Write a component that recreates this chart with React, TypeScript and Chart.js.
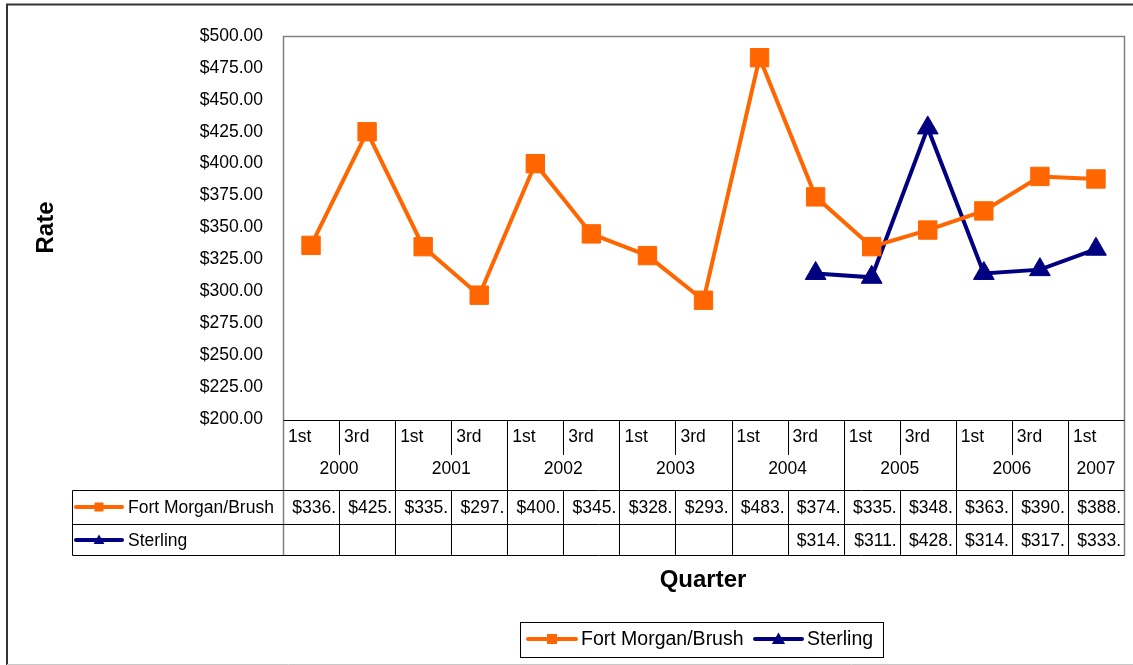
import React, { useEffect, useRef } from 'react';
import { Chart, registerables } from 'chart.js';

Chart.register(...registerables);

const quarters = ['1st', '3rd', '1st', '3rd', '1st', '3rd', '1st', '3rd', '1st', '3rd', '1st', '3rd', '1st', '3rd', '1st'];
const years = ['2000', '2001', '2002', '2003', '2004', '2005', '2006', '2007'];
const categories = quarters.map((q, i) => `${q} ${years[Math.floor(i / 2)]}`);
const fortMorgan = [336, 425, 335, 297, 400, 345, 328, 293, 483, 374, 335, 348, 363, 390, 388];
const sterling: (number | null)[] = [null, null, null, null, null, null, null, null, null, 314, 311, 428, 314, 317, 333];
const seriesNames = ['Fort Morgan/Brush', 'Sterling'];
const seriesColors = ['#FF6600', '#000080'];
const yMin = 200;
const yMax = 500;
const yStep = 25;

const FONT = '"Liberation Sans", Arial, sans-serif';

function drawMarker(ctx: CanvasRenderingContext2D, kind: number, x: number, y: number, s: number) {
  ctx.fillStyle = seriesColors[kind];
  if (kind === 0) {
    ctx.fillRect(x - s / 2, y - s / 2, s, s);
  } else {
    ctx.beginPath();
    ctx.moveTo(x, y - s * 0.6);
    ctx.lineTo(x + s * 0.6, y + s * 0.45);
    ctx.lineTo(x - s * 0.6, y + s * 0.45);
    ctx.closePath();
    ctx.fill();
  }
}

function drawKey(ctx: CanvasRenderingContext2D, kind: number, x1: number, x2: number, y: number, s: number) {
  ctx.save();
  ctx.strokeStyle = seriesColors[kind];
  ctx.lineWidth = 4;
  ctx.lineCap = 'round';
  ctx.beginPath();
  ctx.moveTo(x1, y);
  ctx.lineTo(x2, y);
  ctx.stroke();
  drawMarker(ctx, kind, (x1 + x2) / 2, y, s);
  ctx.restore();
}

const tablePlugin = {
  id: 'tablePlugin',
  afterDraw(chart: any) {
    const ctx: CanvasRenderingContext2D = chart.ctx;
    const area = chart.chartArea;
    const xs = chart.scales.x;
    const n = categories.length;
    const colW = (area.right - area.left) / n;
    const colLeft = (i: number) => xs.getPixelForValue(i) - colW / 2;
    const L = Math.round(area.left) + 0.5;
    const R = Math.round(area.right) + 0.5;
    const T = Math.round(area.top) + 0.5;
    const rowTop = 420.5;
    const qBottom = 455;
    const yrBottom = 490.5;
    const r1Bottom = 524.5;
    const r2Bottom = 555.5;
    const tableLeft = 72.5;

    ctx.save();
    // outer frame
    ctx.strokeStyle = '#333333';
    ctx.lineWidth = 2;
    ctx.beginPath();
    ctx.moveTo(7, 665);
    ctx.lineTo(7, 4.5);
    ctx.lineTo(1133, 4.5);
    ctx.stroke();
    ctx.strokeStyle = '#c8c8c8';
    ctx.lineWidth = 1;
    ctx.beginPath();
    ctx.moveTo(7, 664.5);
    ctx.lineTo(1133, 664.5);
    ctx.stroke();

    // plot border
    ctx.strokeStyle = '#808080';
    ctx.lineWidth = 1.5;
    ctx.beginPath();
    ctx.moveTo(L, r2Bottom);
    ctx.lineTo(L, T);
    ctx.lineTo(R, T);
    ctx.lineTo(R, r2Bottom);
    ctx.stroke();

    // table lines
    ctx.strokeStyle = '#000000';
    ctx.lineWidth = 1;
    ctx.beginPath();
    ctx.moveTo(L, rowTop); ctx.lineTo(R, rowTop);
    ctx.moveTo(tableLeft, yrBottom); ctx.lineTo(R, yrBottom);
    ctx.moveTo(tableLeft, r1Bottom); ctx.lineTo(R, r1Bottom);
    ctx.moveTo(tableLeft, r2Bottom); ctx.lineTo(R, r2Bottom);
    ctx.moveTo(tableLeft, yrBottom); ctx.lineTo(tableLeft, r2Bottom);
    for (let i = 1; i < n; i++) {
      const x = Math.round(colLeft(i)) + 0.5;
      if (i % 2 === 0) {
        ctx.moveTo(x, rowTop); ctx.lineTo(x, r2Bottom);
      } else {
        ctx.moveTo(x, rowTop); ctx.lineTo(x, qBottom);
        ctx.moveTo(x, yrBottom); ctx.lineTo(x, r2Bottom);
      }
    }
    ctx.stroke();

    // quarter + year labels
    ctx.fillStyle = '#000000';
    ctx.font = `17.5px ${FONT}`;
    ctx.textBaseline = 'middle';
    ctx.textAlign = 'left';
    for (let i = 0; i < n; i++) {
      ctx.fillText(quarters[i], colLeft(i) + 5, 437);
    }
    ctx.textAlign = 'center';
    for (let k = 0; k < years.length; k++) {
      const i0 = k * 2;
      const i1 = Math.min(i0 + 1, n - 1);
      const cx = (colLeft(i0) + colLeft(i1) + colW) / 2;
      ctx.fillText(years[k], cx, 469);
    }

    // data rows
    const rows = [fortMorgan, sterling];
    const rowY = [508, 541];
    ctx.textAlign = 'right';
    rows.forEach((vals, r) => {
      vals.forEach((v, i) => {
        if (v === null || v === undefined) return;
        ctx.fillText(`$${Math.floor(v)}.`, colLeft(i) + colW - 3, rowY[r]);
      });
    });
    // row keys
    seriesNames.forEach((name, r) => {
      drawKey(ctx, r, 76, 122, rowY[r] - 1, 9);
      ctx.fillStyle = '#000000';
      ctx.font = `17.5px ${FONT}`;
      ctx.textAlign = 'left';
      ctx.textBaseline = 'middle';
      ctx.fillText(name, 128, rowY[r]);
    });

    // axis title Quarter
    ctx.font = `bold 24px ${FONT}`;
    ctx.textAlign = 'center';
    ctx.fillStyle = '#000000';
    ctx.fillText('Quarter', 703, 580);

    // legend
    ctx.strokeStyle = '#000000';
    ctx.lineWidth = 1;
    ctx.strokeRect(520.5, 622.5, 363, 35);
    drawKey(ctx, 0, 528, 576, 639, 10);
    ctx.fillStyle = '#000000';
    ctx.textAlign = 'left';
    ctx.font = `19.5px ${FONT}`;
    ctx.fillText(seriesNames[0], 581, 640);
    drawKey(ctx, 1, 755, 802, 639, 11);
    ctx.fillStyle = '#000000';
    ctx.font = `19.5px ${FONT}`;
    ctx.textAlign = 'left';
    ctx.fillText(seriesNames[1], 807, 640);
    ctx.restore();
  },
};

export default function App() {
  const ref = useRef<HTMLCanvasElement | null>(null);
  useEffect(() => {
    document.body.style.margin = '0';
    const canvas = ref.current;
    if (!canvas) return;
    const chart = new Chart(canvas, {
      type: 'line',
      data: {
        labels: categories,
        datasets: [
          {
            label: seriesNames[0],
            data: fortMorgan,
            borderColor: seriesColors[0],
            backgroundColor: seriesColors[0],
            borderWidth: 4,
            pointStyle: 'rect',
            pointRadius: 13,
            pointBorderWidth: 1,
            pointBorderColor: seriesColors[0],
            pointBackgroundColor: seriesColors[0],
            tension: 0,
            clip: false as any,
          },
          {
            label: seriesNames[1],
            data: sterling,
            borderColor: seriesColors[1],
            backgroundColor: seriesColors[1],
            borderWidth: 4,
            pointStyle: 'triangle',
            pointRadius: 12,
            pointBorderWidth: 1,
            pointBorderColor: seriesColors[1],
            pointBackgroundColor: seriesColors[1],
            tension: 0,
            spanGaps: false,
            clip: false as any,
          },
        ],
      },
      options: {
        animation: false,
        responsive: false,
        layout: { autoPadding: false, padding: { left: 12, top: 36, right: 9, bottom: 246 } },
        plugins: {
          legend: { display: false },
          tooltip: { enabled: false },
        },
        scales: {
          x: {
            type: 'category',
            display: false,
            offset: true,
          },
          y: {
            min: yMin,
            max: yMax,
            border: { display: false },
            grid: { display: false },
            afterFit: (s: any) => {
              s.width = 271;
            },
            ticks: {
              stepSize: yStep,
              padding: 12,
              color: '#000000',
              font: { family: FONT, size: 17.5 },
              callback: (v: any) => '$' + Number(v).toFixed(2),
            },
            title: {
              display: true,
              text: 'Rate',
              color: '#000000',
              font: { family: FONT, size: 24, weight: 'bold' },
              padding: { top: 20, bottom: 0 },
            },
          },
        },
      },
      plugins: [tablePlugin],
    });
    return () => chart.destroy();
  }, []);
  return (
    <div style={{ width: 1133, height: 665, background: '#ffffff' }}>
      <canvas ref={ref} width={1133} height={665} style={{ display: 'block' }} />
    </div>
  );
}
